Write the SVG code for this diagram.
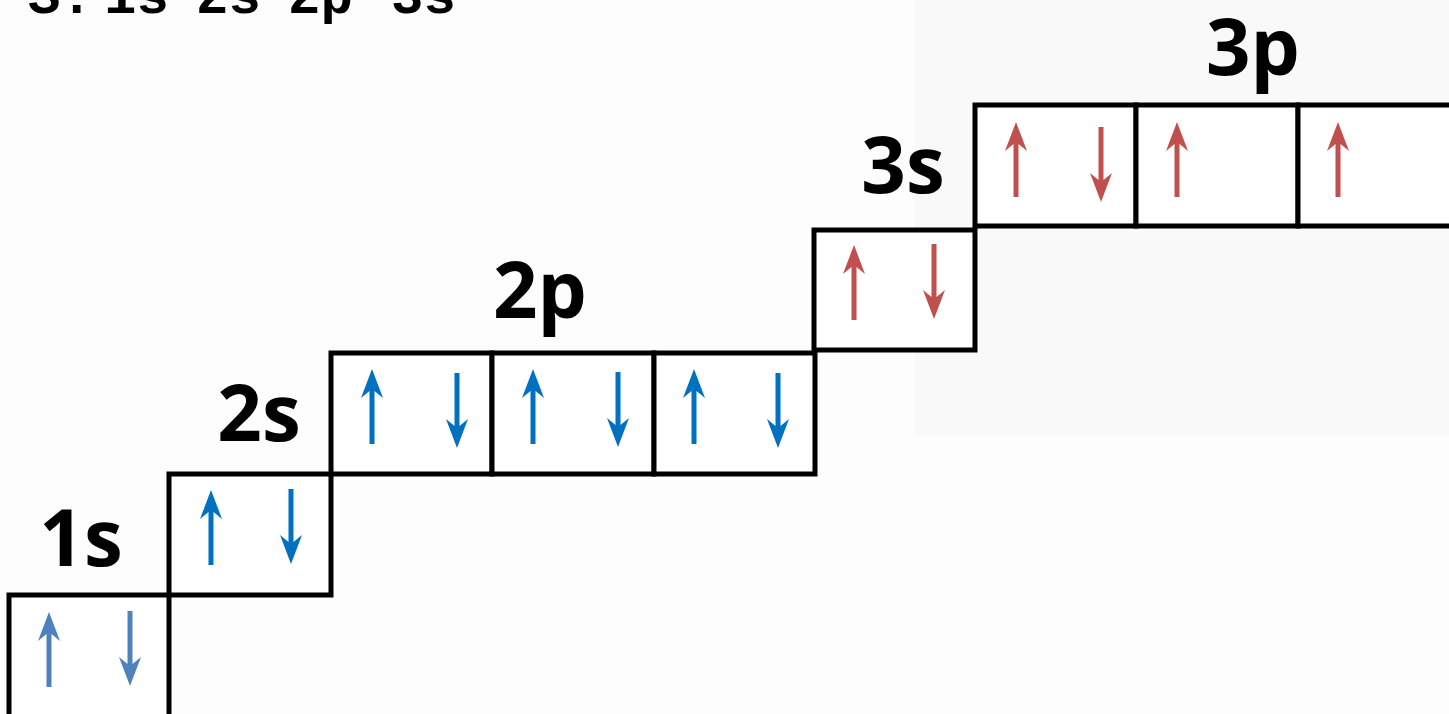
<svg xmlns="http://www.w3.org/2000/svg" xmlns:xlink="http://www.w3.org/1999/xlink" width="1449" height="714" viewBox="0 0 1449 714">
  <defs>
    <style>
      .box { fill: #ffffff; stroke: #000000; stroke-width: 5; }
      .lbl { font-family: "Open Sans", "Liberation Sans", sans-serif; font-weight: 700; font-size: 78px; fill: #000000; text-anchor: middle; }
      .cfg { font-family: "Liberation Mono", "DejaVu Sans Mono", monospace; font-weight: 700; font-size: 54px; fill: #000000; }
      .sup { font-size: 30px; }
      .e1 { fill: #4F81BD; }
      .e2 { fill: #0070C0; }
      .e3 { fill: #C0504D; }
    </style>
    <!-- electron spin arrow: tip at origin, pointing up, 75 px long -->
    <path id="spin" d="M0,0 L11,29 L2.5,22 L2.5,75 L-2.5,75 L-2.5,22 L-11,29 Z"/>
  </defs>

  <rect x="0" y="0" width="1449" height="714" fill="#FDFDFD"/>
  <rect x="915" y="0" width="534" height="435" fill="#F9F9F9"/>

  <!-- electron configuration header (mostly above the frame) -->
  <text class="cfg" y="13"><tspan x="28">S:</tspan><tspan x="104">1s</tspan><tspan class="sup" x="168" dy="-24">2</tspan><tspan x="196" dy="24">2s</tspan><tspan class="sup" x="260" dy="-24">2</tspan><tspan x="288" dy="24">2p</tspan><tspan class="sup" x="352" dy="-24">6</tspan><tspan x="391" dy="24">3s</tspan></text>

  <!-- 1s -->
  <g id="orb-1s">
    <text class="lbl" x="81" y="566">1s</text>
    <rect class="box" x="9" y="595" width="160" height="130"/>
    <use xlink:href="#spin" class="e1" transform="translate(49,612)"/>
    <use xlink:href="#spin" class="e1" transform="translate(130,686) rotate(180)"/>
  </g>

  <!-- 2s -->
  <g id="orb-2s">
    <text class="lbl" x="259" y="441">2s</text>
    <rect class="box" x="169" y="474" width="162" height="121"/>
    <use xlink:href="#spin" class="e2" transform="translate(211,490)"/>
    <use xlink:href="#spin" class="e2" transform="translate(291,564) rotate(180)"/>
  </g>

  <!-- 2p -->
  <g id="orb-2p">
    <text class="lbl" x="540" y="318">2p</text>
    <rect class="box" x="331" y="353" width="161" height="121"/>
    <rect class="box" x="492" y="353" width="162" height="121"/>
    <rect class="box" x="654" y="353" width="161" height="121"/>
    <use xlink:href="#spin" class="e2" transform="translate(372,369)"/>
    <use xlink:href="#spin" class="e2" transform="translate(457,448) rotate(180)"/>
    <use xlink:href="#spin" class="e2" transform="translate(533,369)"/>
    <use xlink:href="#spin" class="e2" transform="translate(618,447) rotate(180)"/>
    <use xlink:href="#spin" class="e2" transform="translate(694,369)"/>
    <use xlink:href="#spin" class="e2" transform="translate(778,448) rotate(180)"/>
  </g>

  <!-- 3s -->
  <g id="orb-3s">
    <text class="lbl" x="903" y="193">3s</text>
    <rect class="box" x="814" y="230" width="161" height="120"/>
    <use xlink:href="#spin" class="e3" transform="translate(854,245)"/>
    <use xlink:href="#spin" class="e3" transform="translate(934,319) rotate(180)"/>
  </g>

  <!-- 3p -->
  <g id="orb-3p">
    <text class="lbl" x="1253" y="75">3p</text>
    <rect class="box" x="975" y="105" width="161" height="121"/>
    <rect class="box" x="1136" y="105" width="162" height="121"/>
    <rect class="box" x="1298" y="105" width="161" height="121"/>
    <use xlink:href="#spin" class="e3" transform="translate(1016,122)"/>
    <use xlink:href="#spin" class="e3" transform="translate(1101,202) rotate(180)"/>
    <use xlink:href="#spin" class="e3" transform="translate(1177,122)"/>
    <use xlink:href="#spin" class="e3" transform="translate(1338,122)"/>
  </g>

  <g id="connectors"/>
</svg>
